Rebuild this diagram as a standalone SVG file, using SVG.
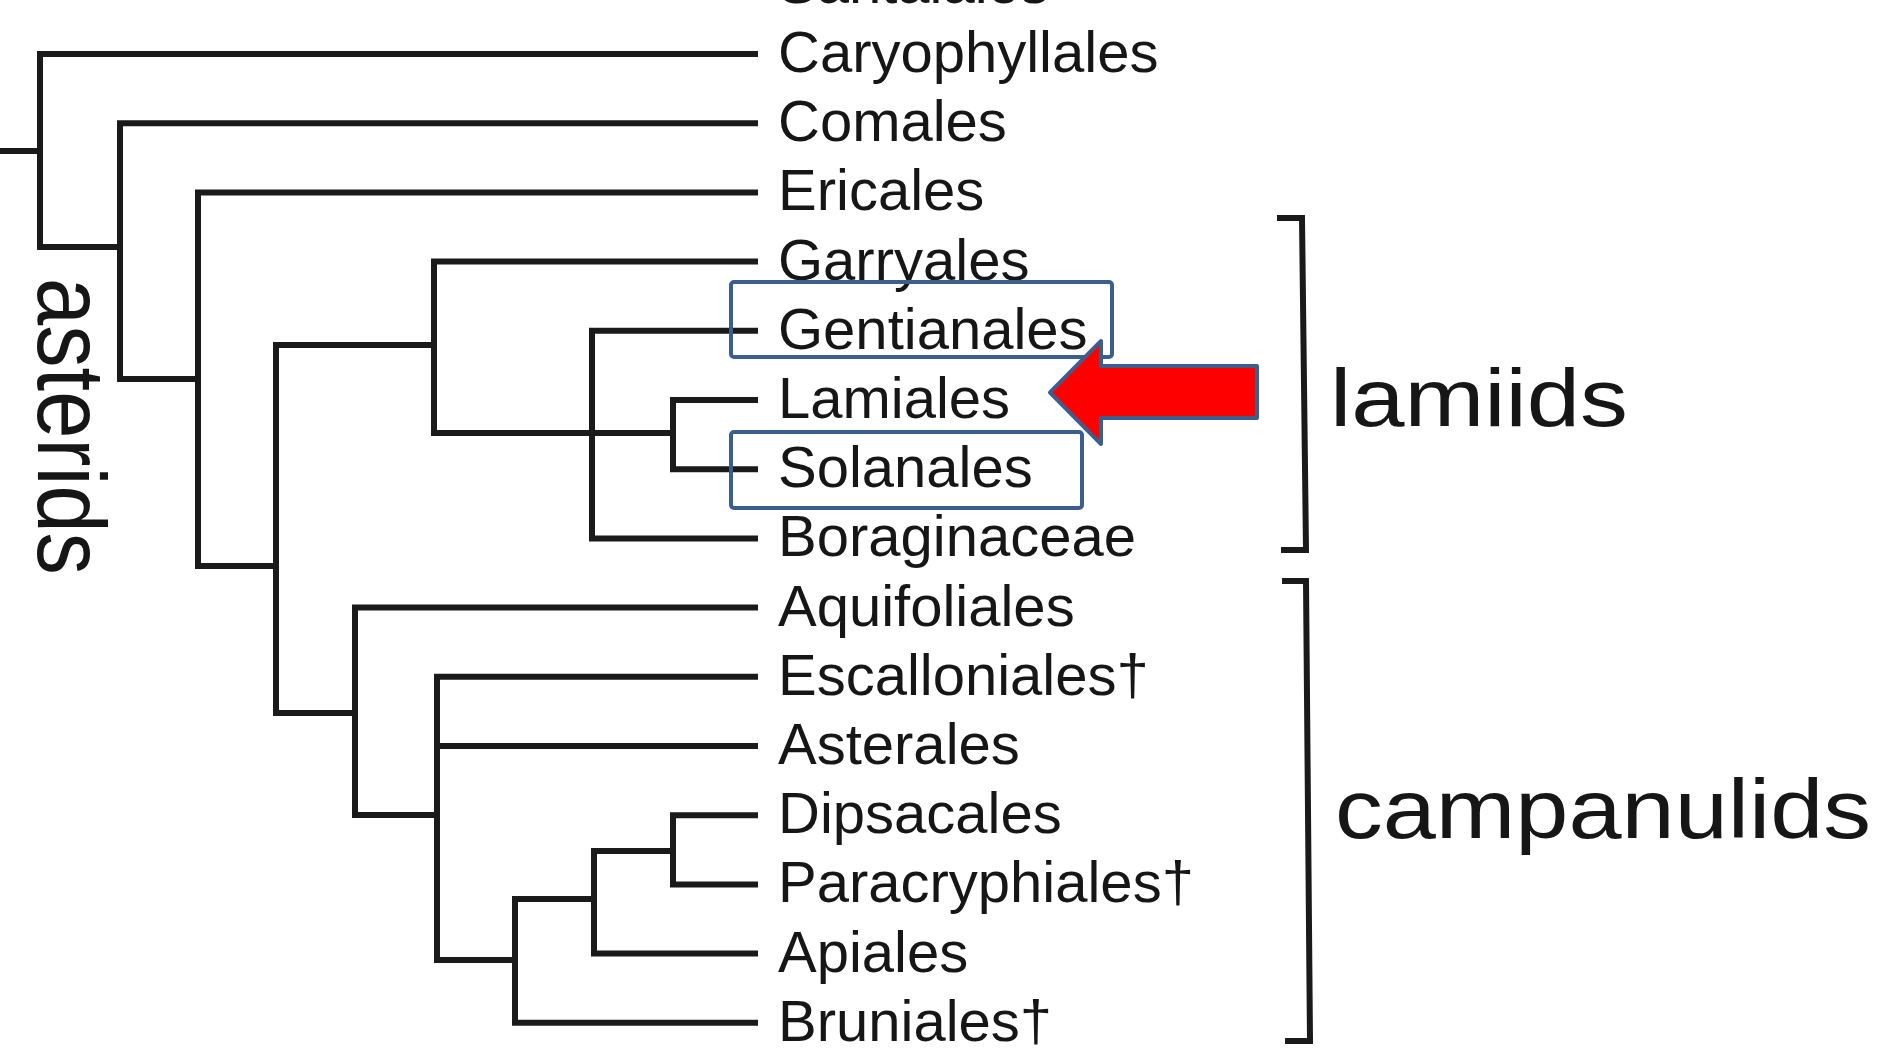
<svg xmlns="http://www.w3.org/2000/svg" width="1882" height="1051" viewBox="0 0 1882 1051">
  <style>
    .branch { fill: none; stroke: #1a1a1a; stroke-width: 6; stroke-linecap: square; stroke-linejoin: miter; }
    .bracket { fill: none; stroke: #1a1a1a; stroke-width: 6; stroke-linejoin: miter; }
    .taxon { font-family: "Liberation Sans", Arial, sans-serif; font-size: 58px; fill: #161616; }
    .clade { font-family: "Liberation Sans", Arial, sans-serif; fill: #161616; }
    .highlight { fill: none; stroke: #3b5e8c; stroke-width: 4; }
    .pointer { fill: #ff0000; stroke: #3b5e8c; stroke-width: 4; stroke-linejoin: round; }
  </style>

  <rect width="1882" height="1051" fill="#ffffff"/>

  <!-- tree branches -->
  <g id="connectors" class="branch">
    <!-- root stub and backbone -->
    <path d="M0 151 H40"/>
    <path d="M755 54 H40 V247 H120"/>
    <path d="M755 123.2 H120 V379 H198"/>
    <path d="M755 192.4 H198 V566 H276"/>
    <path d="M434 345 H276 V713 H355"/>
    <!-- lamiids -->
    <path d="M755 261.6 H434 V433 H673"/>
    <path d="M755 330.8 H592 V538.4 H755"/>
    <path d="M755 400 H673 V469.2 H755"/>
    <!-- campanulids -->
    <path d="M755 607.6 H355 V815 H437"/>
    <path d="M755 676.8 H437 V960 H515"/>
    <path d="M755 746 H437"/>
    <path d="M594 899 H515 V1022.8 H755"/>
    <path d="M673 851 H594 V953.6 H755"/>
    <path d="M755 815.2 H673 V884.4 H755"/>
  </g>

  <!-- leaf labels -->
  <g id="santalales"><text class="taxon" x="778" y="3">Santalales</text></g>
  <g id="caryophyllales"><text class="taxon" x="778" y="72">Caryophyllales</text></g>
  <g id="comales"><text class="taxon" x="778" y="141.2">Comales</text></g>
  <g id="ericales"><text class="taxon" x="778" y="210.4">Ericales</text></g>
  <g id="garryales"><text class="taxon" x="778" y="279.6">Garryales</text></g>
  <g id="gentianales"><text class="taxon" x="778" y="348.8">Gentianales</text></g>
  <g id="lamiales"><text class="taxon" x="778" y="418">Lamiales</text></g>
  <g id="solanales"><text class="taxon" x="778" y="487.2">Solanales</text></g>
  <g id="boraginaceae"><text class="taxon" x="778" y="556.4">Boraginaceae</text></g>
  <g id="aquifoliales"><text class="taxon" x="778" y="625.6">Aquifoliales</text></g>
  <g id="escalloniales"><text class="taxon" x="778" y="694.8">Escalloniales†</text></g>
  <g id="asterales"><text class="taxon" x="778" y="764">Asterales</text></g>
  <g id="dipsacales"><text class="taxon" x="778" y="833.2">Dipsacales</text></g>
  <g id="paracryphiales"><text class="taxon" x="778" y="902.4">Paracryphiales†</text></g>
  <g id="apiales"><text class="taxon" x="778" y="971.6">Apiales</text></g>
  <g id="bruniales"><text class="taxon" x="778" y="1040.8">Bruniales†</text></g>

  <!-- clade names -->
  <g id="asterids">
    <text class="clade" font-size="96" transform="translate(38 278) rotate(90)" textLength="297" lengthAdjust="spacingAndGlyphs">asterids</text>
  </g>
  <g id="lamiids">
    <path class="bracket" d="M1277 218 H1302 L1306 550 H1281"/>
    <text class="clade" x="1330" y="426" font-size="82" textLength="298" lengthAdjust="spacingAndGlyphs">lamiids</text>
  </g>
  <g id="campanulids">
    <path class="bracket" d="M1282 581 H1306 L1310 1041 H1285"/>
    <text class="clade" x="1335" y="838" font-size="84" textLength="536" lengthAdjust="spacingAndGlyphs">campanulids</text>
  </g>

  <!-- highlight boxes and pointer -->
  <g id="box-gentianales"><rect class="highlight" x="731" y="282" width="381" height="75" rx="3"/></g>
  <g id="box-solanales"><rect class="highlight" x="731" y="432" width="351" height="76" rx="3"/></g>
  <g id="arrow">
    <polygon class="pointer" points="1050,392.5 1101,341 1101,366 1257,366 1257,418 1101,418 1101,444"/>
  </g>
</svg>
